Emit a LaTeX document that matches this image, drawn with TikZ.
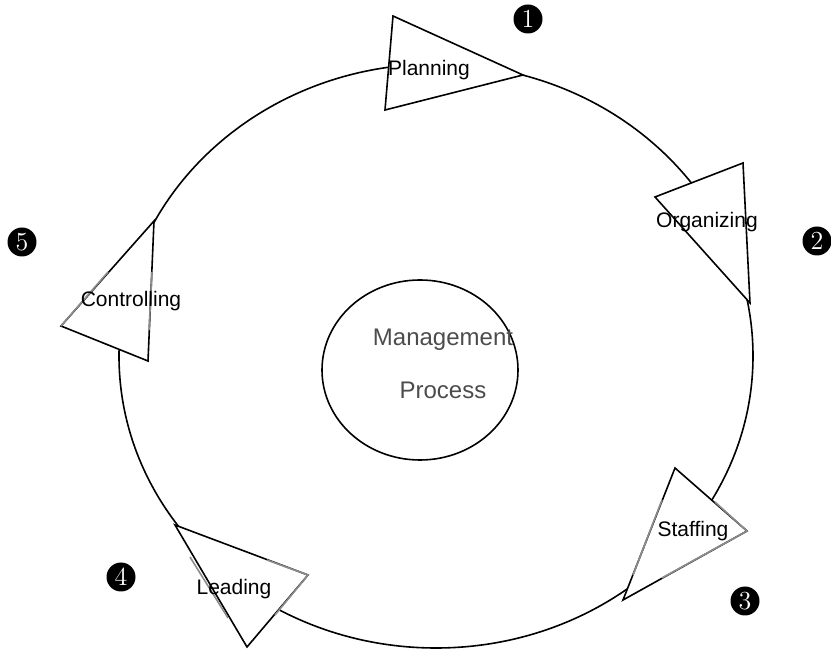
\documentclass[tikz,border=0pt]{standalone}
\usepackage{fontspec}
\setsansfont{Liberation Sans}
\usetikzlibrary{positioning, shapes}

\begin{document}
\begin{tikzpicture}[x=0.5pt, y=-0.5pt, thick]

   \tikzstyle{tri}=[draw=black, fill=white, line join=miter]
   \tikzstyle{fade}=[draw=black!45]
   \tikzstyle{lbl}=[font=\sffamily\fontsize{10.5}{12}\selectfont, text=black, inner sep=0pt]
   \tikzstyle{title}=[font=\sffamily\fontsize{12}{14}\selectfont, text=black!70, inner sep=0pt]
   \tikzstyle{num}=[circle, fill=black, text=white, inner sep=0pt, minimum size=14.5pt, font=\fontsize{13}{14}\selectfont]

   \useasboundingbox (0,0) rectangle (831,657);

   % the cycle and the centre
   \draw (436,356) ellipse [x radius=317, y radius=292];
   \node[ellipse, draw, minimum width=98pt, minimum height=90pt] (proc) at (420,370) {};
   \node[title] (t1) at (443,340) {Management};
   \node[title] (t2) at (443,390) {Process};

   % arrow heads on the cycle
   \draw[tri] (393,16) -- (385,110) -- (523,75) -- cycle;
   \draw[tri] (655,197) -- (743,163) -- (750,303) -- cycle;
   \draw[tri] (675,468) -- (747,531) -- (623,600) -- cycle;
   \draw[tri] (175,525) -- (308,575) -- (247,647) -- cycle;
   \draw[tri] (154,221) -- (61,326) -- (148,361) -- cycle;

   % lighter strokes
   \draw[fade] (108,272) -- (61,326);
   \draw[fade] (152,272) -- (149,330);
   \draw[fade] (662,500) -- (633,575);
   \draw[fade] (715,502) -- (747,531) -- (662,578);
   \draw[fade] (267,560) -- (308,575) -- (275,615);
   \draw[fade] (190,557) -- (228,618);

   \node[lbl] (plan) at (429,70)  {Planning};
   \node[lbl] (org)  at (707,222) {Organizing};
   \node[lbl] (staf) at (693,531) {Staffing};
   \node[lbl] (lead) at (234,589) {Leading};
   \node[lbl] (ctrl) at (131,301) {Controlling};

   % step numbers
   \node[num] (n1) at (528,19)  {1};
   \node[num] (n2) at (817,241) {2};
   \node[num] (n3) at (745,601) {3};
   \node[num] (n4) at (121,577) {4};
   \node[num] (n5) at (22,242)  {5};
\end{tikzpicture}
\end{document}
